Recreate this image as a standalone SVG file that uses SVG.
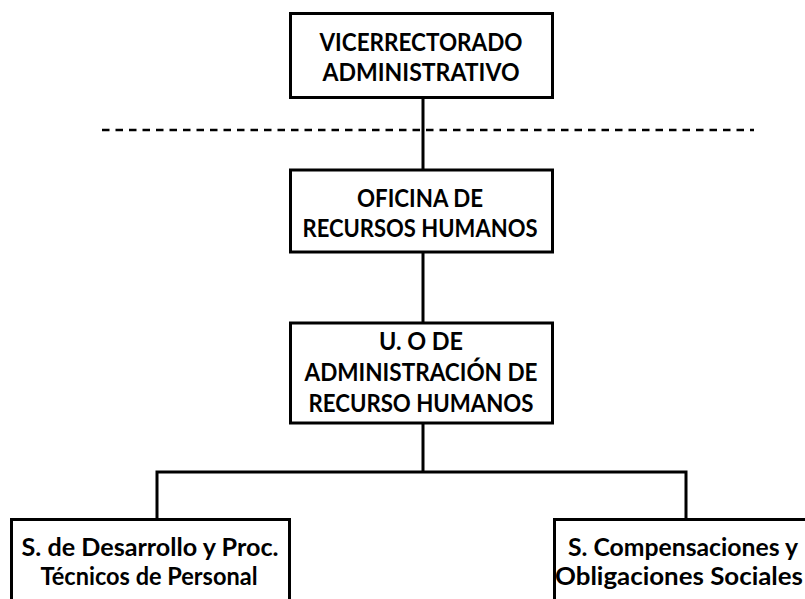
<svg xmlns="http://www.w3.org/2000/svg" width="805" height="599" viewBox="0 0 805 599">
<style>
.box{fill:#fff;stroke:#000;stroke-width:3}
.ln{fill:none;stroke:#000;stroke-width:3}
.dash{fill:none;stroke:#000;stroke-width:2.5;stroke-dasharray:7.5 6}
text{font-family:Lato,"Liberation Sans",sans-serif;font-weight:bold;font-size:25px;fill:#000;text-anchor:middle}
</style>
<rect width="805" height="599" fill="#fff"/>
<g id="connectors">
<line class="dash" x1="102" y1="130" x2="754" y2="130"/>
<path class="ln" d="M423 97V170M423 252V323M423 423V472M157 519V472H686V519"/>
</g>
<g id="vicerrectorado">
<rect class="box" x="290.5" y="13.5" width="262" height="84"/>
<text x="421" y="51" textLength="203" lengthAdjust="spacingAndGlyphs">VICERRECTORADO</text>
<text x="421" y="81" textLength="197" lengthAdjust="spacingAndGlyphs">ADMINISTRATIVO</text>
</g>
<g id="oficina">
<rect class="box" x="290.5" y="170" width="262" height="82"/>
<text x="420" y="207" textLength="126" lengthAdjust="spacingAndGlyphs">OFICINA DE</text>
<text x="420" y="237" textLength="235" lengthAdjust="spacingAndGlyphs">RECURSOS HUMANOS</text>
</g>
<g id="uo">
<rect class="box" x="290.5" y="323" width="262" height="100"/>
<text x="421" y="350" textLength="84" lengthAdjust="spacingAndGlyphs">U. O DE</text>
<text x="421" y="381" textLength="233" lengthAdjust="spacingAndGlyphs">ADMINISTRACIÓN DE</text>
<text x="421" y="412" textLength="225" lengthAdjust="spacingAndGlyphs">RECURSO HUMANOS</text>
</g>
<g id="desarrollo">
<rect class="box" x="11.5" y="519.5" width="278" height="120"/>
<text x="150" y="556" textLength="257" lengthAdjust="spacingAndGlyphs">S. de Desarrollo y Proc.</text>
<text x="149" y="585" textLength="217" lengthAdjust="spacingAndGlyphs">Técnicos de Personal</text>
</g>
<g id="compensaciones">
<rect class="box" x="554.5" y="519.5" width="280" height="120"/>
<text x="683" y="556" textLength="230" lengthAdjust="spacingAndGlyphs">S. Compensaciones y</text>
<text x="679" y="585" textLength="248" lengthAdjust="spacingAndGlyphs">Obligaciones Sociales</text>
</g>
</svg>
